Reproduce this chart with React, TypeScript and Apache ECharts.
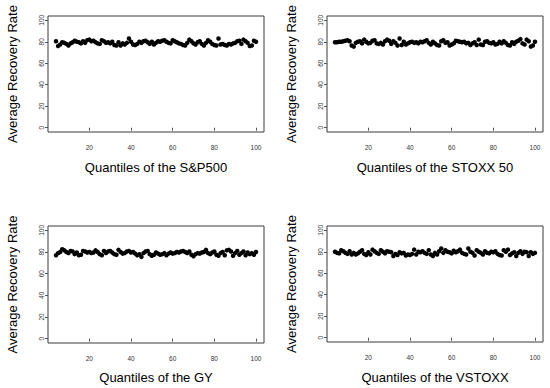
import React, { useEffect, useRef } from "react";
import * as echarts from "echarts";

const quantiles: number[] = Array.from({ length: 97 }, (_, i) => i + 4);

const sp500: number[] = [
  80.5, 76.0, 77.5, 79.5, 79.0, 78.0, 76.5, 78.5, 79.5, 81.0,
  80.0, 79.5, 78.5, 80.5, 79.0, 81.5, 82.0, 80.5, 81.0, 79.5,
  78.5, 78.0, 81.5, 80.5, 79.0, 79.5, 78.5, 80.0, 77.0, 76.5,
  79.5, 76.5, 78.5, 77.5, 79.0, 83.0, 80.0, 77.5, 77.0, 78.0,
  80.0, 79.0, 80.5, 81.0, 79.5, 78.0, 80.0, 77.5, 79.0, 80.5,
  80.0, 81.0, 81.5, 80.0, 79.0, 78.5, 81.5, 80.5, 79.5, 78.5,
  78.0, 77.0, 76.5, 79.0, 82.0, 80.5, 78.5, 77.5, 79.5, 80.5,
  78.0, 76.5, 79.0, 81.5, 80.0, 78.0, 77.0, 76.5, 83.0, 77.5,
  78.0, 77.0, 76.5, 78.0, 77.5, 78.5, 79.0, 80.5, 81.0, 78.0,
  82.0, 80.5, 79.0, 76.0, 76.5, 81.0, 80.0,
];

const stoxx50: number[] = [
  79.5, 79.5, 80.0, 80.0, 80.5, 81.0, 81.5, 80.5, 76.5, 75.5,
  79.0, 80.0, 80.5, 78.5, 82.0, 80.0, 78.5, 79.0, 81.0, 81.5,
  78.5, 78.0, 79.0, 77.5, 80.5, 82.0, 81.0, 78.0, 80.5, 79.0,
  76.5, 83.0, 77.0, 80.0, 77.5, 78.5, 79.5, 80.0, 79.0, 79.5,
  78.5, 80.0, 79.5, 80.5, 81.5, 79.0, 77.5, 80.0, 78.5, 77.0,
  76.5, 80.5, 81.5, 79.0, 79.5, 76.5, 77.5, 78.5, 81.0, 80.5,
  80.0, 79.5, 80.0, 78.5, 79.0, 77.0, 78.5, 79.5, 77.0, 82.0,
  77.5, 77.0, 80.0, 80.5, 79.0, 78.5, 79.5, 77.5, 78.0, 80.0,
  78.5, 80.5, 79.0, 77.0, 76.5, 79.5, 78.0, 80.0, 81.0, 82.5,
  78.5, 77.5, 82.0, 80.5, 75.5, 76.5, 80.0,
];

const gy: number[] = [
  77.0, 79.0, 80.0, 82.5, 81.5, 80.0, 79.0, 81.0, 80.5, 78.0,
  79.5, 77.0, 77.5, 81.0, 80.5, 79.5, 80.0, 79.0, 79.5, 81.5,
  80.0, 78.0, 77.0, 81.0, 79.0, 80.5, 81.0, 79.5, 78.0, 77.5,
  82.0, 80.0, 78.5, 79.0, 80.5, 81.0, 79.5, 80.0, 78.5, 77.0,
  78.0, 75.5, 79.0, 80.5, 81.0, 78.0, 76.5, 77.5, 79.5, 78.5,
  77.5, 78.0, 79.0, 77.0, 78.5, 79.5, 78.5, 79.0, 80.0, 79.5,
  80.5, 81.0, 80.0, 79.0, 80.5, 77.5, 76.0, 78.0, 79.0, 78.5,
  79.5, 80.0, 82.0, 79.0, 78.0, 79.5, 80.5, 77.5, 76.5, 79.0,
  80.0, 77.0, 81.5, 82.0, 80.5, 76.5, 79.0, 81.0, 77.5, 79.0,
  80.5, 77.0, 79.5, 78.0, 79.0, 77.5, 80.0,
];

const vstoxx: number[] = [
  80.0, 79.0, 78.5, 81.5, 80.5, 79.0, 78.0, 80.5, 77.5, 79.0,
  77.5, 78.5, 80.0, 81.5, 78.0, 77.0, 79.5, 77.5, 82.0, 80.5,
  79.0, 78.0, 81.5, 80.0, 78.5, 80.5, 80.0, 79.5, 76.0, 78.0,
  77.0, 79.5, 78.5, 79.0, 76.5, 77.5, 77.0, 78.0, 82.0, 77.5,
  80.0, 79.5, 80.5, 79.0, 78.0, 81.5, 77.5, 76.0, 79.0, 77.5,
  80.5, 83.0, 79.0, 81.5, 80.0, 79.5, 78.5, 81.0, 79.5, 80.5,
  82.0, 79.0, 78.0, 77.5, 83.0, 80.0, 79.0, 76.5, 81.5, 80.0,
  79.0, 77.5, 80.5, 79.0, 78.5, 80.0, 79.5, 80.5, 78.0, 77.0,
  76.5, 81.5, 80.0, 82.0, 77.0, 78.5, 79.5, 76.0, 79.0, 80.5,
  78.0, 80.0, 79.5, 76.0, 79.5, 78.0, 79.0,
];

const xTicks: number[] = [20, 40, 60, 80, 100];
const yTicks: number[] = [0, 20, 40, 60, 80, 100];
const yTitle = "Average Recovery Rate";
const xTitles: string[] = [
  "Quantiles of the S&P500",
  "Quantiles of the STOXX 50",
  "Quantiles of the GY",
  "Quantiles of the VSTOXX",
];
const panelSeries: number[][] = [sp500, stoxx50, gy, vstoxx];

const grids = [
  { left: 48, top: 16, width: 216, height: 116 },
  { left: 327, top: 16, width: 216, height: 116 },
  { left: 48, top: 226, width: 216, height: 117 },
  { left: 327, top: 226, width: 216, height: 116 },
];

export default function App() {
  const ref = useRef<HTMLDivElement>(null);
  useEffect(() => {
    document.body.style.margin = "0";
    if (!ref.current) return;
    const chart = echarts.init(ref.current, null, { renderer: "svg" });
    const font = "Liberation Sans, Arial, sans-serif";
    const option: any = {
      animation: false,
      backgroundColor: "#ffffff",
      grid: grids.map((g) => ({
        ...g,
        show: true,
        borderColor: "#3a3a3a",
        borderWidth: 1,
        backgroundColor: "transparent",
        containLabel: false,
      })),
      xAxis: grids.map((_, i) => ({
        type: "value",
        gridIndex: i,
        min: 0.16,
        max: 103.84,
        splitLine: { show: false },
        axisLine: { show: false },
        axisTick: {
          show: true,
          inside: false,
          length: 3,
          customValues: xTicks,
          lineStyle: { color: "#555", width: 1 },
        },
        axisLabel: {
          show: true,
          customValues: xTicks,
          margin: 12,
          fontSize: 6.5,
          color: "#333",
          fontFamily: font,
        },
      })),
      yAxis: grids.map((_, i) => ({
        type: "value",
        gridIndex: i,
        min: -4,
        max: 104,
        splitLine: { show: false },
        axisLine: { show: false },
        axisTick: {
          show: true,
          inside: false,
          length: 3,
          customValues: yTicks,
          lineStyle: { color: "#555", width: 1 },
        },
        axisLabel: {
          show: true,
          customValues: yTicks,
          rotate: 90,
          margin: 3,
          fontSize: 6.5,
          color: "#333",
          fontFamily: font,
        },
      })),
      series: panelSeries.map((vals, i) => ({
        type: "scatter",
        xAxisIndex: i,
        yAxisIndex: i,
        symbol: "circle",
        symbolSize: 4.5,
        itemStyle: { color: "#000000", opacity: 1 },
        data: quantiles.map((q, k) => [q, vals[k]]),
      })),
      graphic: [
        ...grids.map((g) => ({
          type: "text",
          x: g.left - 36,
          y: g.top + g.height / 2,
          rotation: Math.PI / 2,
          style: {
            text: yTitle,
            fontSize: 13,
            fontFamily: font,
            fill: "#000",
            align: "center",
            verticalAlign: "middle",
          },
        })),
        ...grids.map((g, i) => ({
          type: "text",
          x: g.left + g.width / 2,
          y: i < 2 ? 167 : 377,
          style: {
            text: xTitles[i],
            fontSize: 13,
            fontFamily: font,
            fill: "#000",
            align: "center",
            verticalAlign: "middle",
          },
        })),
      ],
    };
    chart.setOption(option);
    return () => chart.dispose();
  }, []);
  return <div ref={ref} style={{ width: 550, height: 388 }} />;
}
